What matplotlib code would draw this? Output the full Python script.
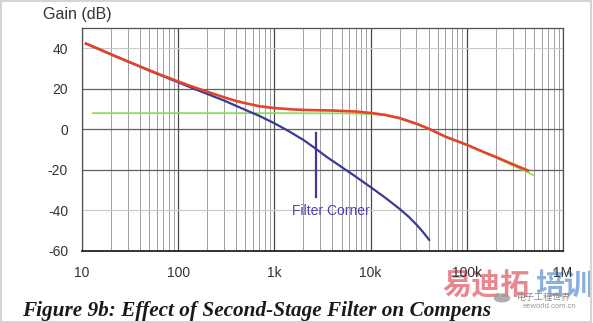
import matplotlib
matplotlib.use("Agg")
import matplotlib.pyplot as plt
from matplotlib.ticker import LogLocator, FixedLocator, NullFormatter
from matplotlib.patches import Rectangle, Circle

# ---- data ----
blue_freq = [11, 15, 20, 30, 50, 70, 100, 150, 200, 300, 400, 500, 700, 1000, 1400, 2000,
             2700, 3500, 5000, 7000, 10000, 14000, 20000, 25000, 30000, 35000, 40600]
blue_gain = [42.3, 39.6, 37.0, 33.5, 29.0, 26.2, 23.2, 19.8, 17.5, 14.2, 11.6, 9.6, 6.6, 3.0, -0.8, -5.2,
             -9.6, -13.6, -18.6, -23.3, -28.5, -33.5, -39.2, -43.2, -47.0, -50.6, -54.5]

red_freq = [11, 15, 20, 30, 50, 70, 100, 150, 200, 300, 400, 500, 700, 1000, 1500, 2000, 3000,
            4000, 5000, 7000, 10000, 14000, 20000, 30000, 40000, 60000, 100000, 150000, 200000,
            300000, 433000]
red_gain = [42.3, 39.6, 37.0, 33.5, 29.2, 26.4, 23.6, 20.6, 18.6, 15.8, 14.0, 12.9, 11.4, 10.5, 9.9,
            9.6, 9.4, 9.3, 9.1, 8.8, 8.1, 7.2, 5.6, 2.8, 0.4, -3.6, -7.6, -11.2, -13.6, -17.2, -20.3]

green_freq = [13, 1000, 5000, 10000, 14000, 20000, 30000, 40000, 60000, 100000, 150000, 200000,
              300000, 433000, 500000]
green_gain = [8, 8, 7.9, 7.6, 6.9, 5.3, 2.5, 0.2, -3.8, -7.8, -11.4, -13.9, -17.8, -21.2, -22.8]

x_ticks = [10, 100, 1000, 10000, 100000, 1000000]
x_labels = ["10", "100", "1k", "10k", "100k", "1M"]
y_ticks = [-60, -40, -20, 0, 20, 40]
y_labels = ["-60", "-40", "-20", "0", "20", "40"]

corner_freq = 2700
corner_top, corner_bottom = -2, -33.5
corner_label = "Filter Corner"
corner_label_freq, corner_label_gain = 3900, -40.3

W, H = 593, 323
fig = plt.figure(figsize=(W / 100, H / 100), dpi=100)
fig.patch.set_facecolor("white")
ax = fig.add_axes([82 / W, 1 - 251 / H, (563 - 82) / W, (251 - 28) / H])
ax.set_xscale("log")
ax.set_xlim(10, 1e6)
ax.set_ylim(-60, 50)

# grid
ax.xaxis.set_major_locator(FixedLocator(x_ticks))
ax.xaxis.set_minor_locator(LogLocator(base=10, subs=range(2, 10)))
ax.xaxis.set_minor_formatter(NullFormatter())
ax.set_xticks(x_ticks)
ax.set_xticklabels(x_labels)
ax.set_yticks(y_ticks)
ax.set_yticklabels(y_labels)
ax.grid(which="major", axis="x", color="#4a4a4a", lw=0.9)
ax.grid(which="minor", axis="x", color="#a0a0a0", lw=0.7)
for v in y_ticks:
    if v in (20, 0, -20):
        ax.axhline(v, color="#606060", lw=0.9, zorder=1)
    elif v != -60:
        ax.axhline(v, color="#c8c8c8", lw=0.8, zorder=1)
ax.tick_params(which="both", length=0)
ax.tick_params(axis="y", pad=10, labelsize=10, labelcolor="#333333")
ax.tick_params(axis="x", pad=11, labelsize=10, labelcolor="#333333")
for s in ax.spines.values():
    s.set_color("#505050")
    s.set_linewidth(0.9)
ax.spines["bottom"].set_color("#222222")
ax.spines["bottom"].set_linewidth(1.3)
ax.set_axisbelow(True)

# curves
ax.plot(green_freq, green_gain, color="#8edc5c", lw=1.3, zorder=3)
ax.plot(blue_freq, blue_gain, color="#3b3a96", lw=1.6, zorder=4)
ax.plot(red_freq, red_gain, color="#e2452c", lw=1.9, zorder=5)

# filter corner annotation
ax.plot([corner_freq, corner_freq], [corner_top, corner_bottom], color="#4b34a0", lw=1.6, zorder=6)
ax.text(corner_label_freq, corner_label_gain, corner_label, color="#5040b0",
        fontsize=10, ha="center", va="center", family="Liberation Sans", zorder=6)

# axis title
fig.text(43 / W, 1 - 14 / H, "Gain (dB)", fontsize=11.5, color="#333333",
         ha="left", va="center", family="Liberation Sans")
for lab in ax.get_xticklabels() + ax.get_yticklabels():
    lab.set_family("Liberation Sans")

# caption
fig.text(22 / W, 1 - 311 / H, "Figure 9b: Effect of Second-Stage Filter on Compens",
         fontsize=15.3, fontweight="bold", fontstyle="italic", family="Liberation Serif",
         color="#1a1a1a", ha="left", va="center")

# watermark
fig.text(442 / W, 1 - 285 / H, "易迪拓", fontsize=21, color="#e05462", alpha=0.7,
         family=["Noto Sans CJK SC", "DejaVu Sans"], fontweight="bold", ha="left", va="center", zorder=-1)
fig.text(535 / W, 1 - 285 / H, "培训", fontsize=21, color="#5b8fd0", alpha=0.7,
         family=["Noto Sans CJK SC", "DejaVu Sans"], fontweight="bold", ha="left", va="center", zorder=-1)
fig.patches.append(Circle((502 / W, 1 - 298 / H), 0.014, transform=fig.transFigure,
                          facecolor="#9a9a9a", edgecolor="none", alpha=0.8))
fig.text(517 / W, 1 - 297 / H, "电子工程世界", fontsize=6.5, color="#8a8a8a",
         family=["Noto Sans CJK SC", "DejaVu Sans"], ha="left", va="center")
fig.text(523 / W, 1 - 307 / H, "eeworld.com.cn", fontsize=5.5, color="#9a9a9a",
         family="Liberation Sans", ha="left", va="center")

# light frame around the picture
fig.patches.append(Rectangle((0.002, 0.003), 0.994, 0.994, transform=fig.transFigure,
                             fill=False, edgecolor="#d4d4d4", lw=1.5))

fig.savefig("out.png", dpi=100)
